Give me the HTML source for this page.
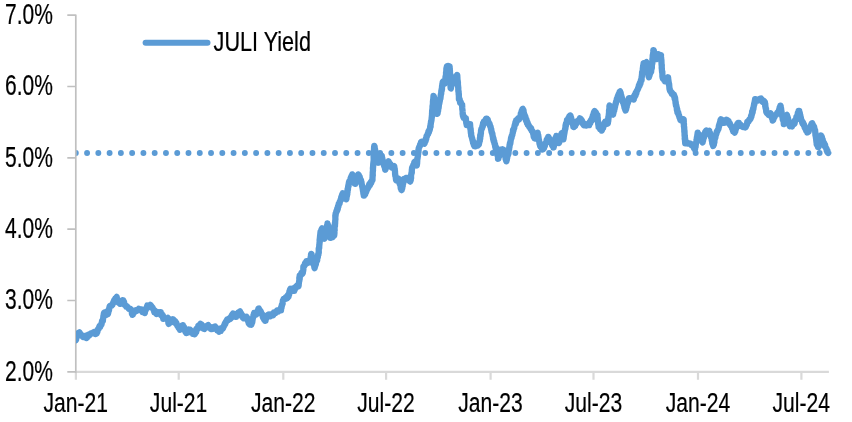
<!DOCTYPE html>
<html lang="en">
<head>
<meta charset="utf-8">
<title>JULI Yield</title>
<style>
html,body{margin:0;padding:0;background:#fff;}
body{width:852px;height:422px;overflow:hidden;}
svg{display:block;}
text{font-family:"Liberation Sans",Arial,Helvetica,sans-serif;fill:#000;stroke:#000;stroke-width:0.22px;}
</style>
</head>
<body>
<svg width="852" height="422" viewBox="0 0 852 422">
<rect width="852" height="422" fill="#fff"/>
<defs><clipPath id="plot"><rect x="75.9" y="0" width="776" height="372"/></clipPath></defs>
<line x1="75.8" y1="153" x2="829" y2="153" stroke="#5b9bd5" stroke-width="5.9" stroke-linecap="round" stroke-dasharray="0 11.27" clip-path="url(#plot)"/>
<g fill="none" stroke-linejoin="round">
<path d="M75.9,371.9 H828.9 M75.9,371.9 V379.8 M178.7,371.9 V379.8 M283.3,371.9 V379.8 M386.1,371.9 V379.8 M490.6,371.9 V379.8 M593.5,371.9 V379.8 M698.0,371.9 V379.8 M801.4,371.9 V379.8" stroke="#d9d9d9" stroke-width="2.2"/>
<path d="M67.3,15.1 H75.8 V372.9 M67.3,86.5 H75.8 M67.3,157.8 H75.8 M67.3,229.2 H75.8 M67.3,300.5 H75.8 M67.3,371.9 H75.8" stroke="#c0c0c0" stroke-width="1.7"/>
</g>
<path d="M75.9,340.2 L76.1,339.7 L76.3,337.2 L76.6,337.9 L76.9,335.8 L77.2,335.0 L77.9,334.3 L78.5,332.9 L79.4,332.3 L80.3,334.1 L80.9,334.2 L81.7,335.6 L83.1,337.0 L84.3,336.6 L85.4,335.8 L86.4,338.1 L87.6,336.9 L88.4,334.8 L89.2,335.5 L90.2,334.3 L91.4,333.1 L92.4,333.4 L93.5,332.3 L94.5,331.8 L95.5,334.0 L96.7,333.6 L96.9,332.2 L97.3,332.3 L97.7,329.7 L98.0,329.1 L98.6,329.0 L99.4,326.3 L100.0,327.1 L100.6,325.8 L101.2,323.9 L101.5,324.6 L102.0,321.1 L102.6,321.3 L102.9,320.9 L103.0,318.8 L103.2,318.4 L103.4,316.0 L103.5,317.2 L103.8,313.9 L103.9,314.7 L104.1,312.8 L105.0,312.3 L105.7,314.9 L106.5,314.8 L107.2,313.6 L107.9,313.9 L108.4,312.1 L108.6,309.8 L109.0,310.4 L109.2,308.4 L109.3,307.9 L109.7,306.3 L110.6,305.6 L111.4,305.8 L112.3,305.0 L112.8,303.3 L113.2,303.1 L113.6,301.7 L114.3,300.0 L114.9,301.0 L115.3,298.5 L116.0,298.7 L116.5,297.2 L116.7,296.9 L117.1,299.7 L117.5,299.9 L117.8,302.2 L118.2,302.4 L119.0,302.6 L120.0,303.9 L120.8,303.7 L121.5,301.6 L122.0,302.8 L122.5,300.2 L123.2,300.4 L123.7,302.8 L124.0,301.5 L124.3,304.5 L124.7,305.0 L125.6,305.3 L126.2,306.6 L127.1,306.5 L128.0,307.6 L128.9,308.8 L130.0,308.7 L131.2,309.5 L131.4,310.9 L131.8,311.4 L131.9,313.6 L132.2,313.2 L132.5,314.8 L132.9,314.4 L133.6,311.6 L134.0,312.5 L134.5,310.8 L135.5,310.3 L136.6,311.0 L137.8,310.2 L138.8,308.8 L140.1,310.0 L141.0,309.5 L141.7,309.5 L142.5,312.0 L143.6,311.2 L144.3,312.8 L144.8,313.0 L145.2,310.2 L145.8,310.1 L146.3,307.9 L146.6,308.2 L147.3,305.5 L147.6,305.6 L149.0,307.0 L150.3,304.9 L151.5,306.3 L152.1,307.7 L152.5,307.5 L153.1,309.3 L153.8,309.5 L154.3,312.2 L155.0,310.6 L155.4,312.8 L156.5,313.9 L157.6,312.0 L158.8,312.7 L160.0,312.1 L160.7,312.1 L161.1,315.2 L161.8,314.0 L162.3,316.2 L162.9,315.6 L163.3,318.8 L163.9,318.7 L165.3,318.1 L166.6,318.8 L167.8,318.0 L167.9,317.9 L168.3,321.0 L168.2,320.5 L168.4,323.1 L168.7,323.9 L169.7,321.7 L170.5,322.4 L171.3,319.8 L172.2,320.8 L173.0,319.3 L173.5,319.8 L174.3,322.3 L175.1,321.1 L175.7,323.5 L176.2,322.5 L176.9,324.5 L177.4,326.0 L178.1,326.1 L178.7,328.1 L179.4,328.3 L179.9,329.7 L180.5,329.4 L181.3,327.0 L181.9,327.7 L182.4,325.3 L183.0,325.2 L183.3,327.1 L183.9,326.7 L184.5,328.7 L184.9,329.3 L185.4,331.8 L185.9,331.3 L186.4,333.0 L187.2,332.7 L187.9,330.5 L188.6,329.7 L189.4,330.8 L190.3,329.9 L191.2,332.5 L192.0,331.1 L192.8,333.9 L193.7,332.9 L194.5,334.3 L195.0,334.0 L195.7,331.5 L196.2,332.2 L196.5,328.9 L197.1,329.1 L197.9,328.9 L198.3,325.9 L199.1,326.3 L199.7,324.7 L200.4,323.9 L201.0,325.1 L201.6,324.6 L202.0,327.0 L202.4,326.5 L203.0,328.4 L204.2,329.0 L205.3,326.6 L206.2,327.1 L207.3,325.8 L208.2,325.1 L209.0,327.5 L209.8,327.0 L210.6,328.9 L211.5,329.1 L212.3,327.4 L213.3,328.6 L214.1,326.9 L215.1,326.5 L215.8,328.3 L216.5,328.0 L217.2,330.2 L217.6,329.6 L218.4,331.1 L219.0,331.7 L219.7,330.4 L220.8,330.8 L221.4,328.2 L222.5,329.0 L223.2,327.8 L223.8,325.9 L224.1,326.0 L224.7,323.7 L225.3,323.9 L225.8,321.7 L226.3,321.9 L226.8,320.3 L227.2,319.5 L228.2,320.0 L229.5,318.3 L230.4,318.9 L230.8,318.4 L231.4,316.0 L231.9,316.1 L232.4,314.5 L233.0,313.7 L233.8,315.1 L234.6,314.2 L235.4,316.9 L236.3,316.9 L236.8,315.3 L237.4,315.3 L238.2,312.7 L238.9,313.2 L239.5,311.7 L240.0,311.4 L240.6,314.7 L241.3,313.7 L241.8,316.1 L242.5,315.4 L243.0,317.9 L243.5,318.2 L244.6,316.8 L245.6,318.0 L246.7,316.9 L246.9,317.7 L247.4,319.3 L247.6,319.7 L248.1,321.5 L248.4,321.1 L248.7,323.4 L249.5,324.4 L250.4,323.7 L251.3,324.7 L251.6,323.9 L252.0,321.9 L252.2,322.5 L252.6,319.5 L252.7,319.4 L252.9,317.5 L253.3,317.3 L253.5,314.9 L253.7,314.4 L254.1,313.0 L255.3,313.3 L256.5,314.3 L256.8,313.4 L257.3,311.4 L257.9,311.7 L258.4,308.6 L258.8,308.5 L259.4,310.5 L259.7,309.8 L260.1,312.7 L260.8,311.3 L261.3,313.6 L261.7,314.3 L262.3,314.2 L262.9,317.5 L263.4,317.2 L264.0,319.4 L264.5,318.6 L265.0,320.8 L265.6,320.7 L265.9,317.9 L266.2,318.4 L266.7,316.6 L267.3,316.3 L267.6,315.0 L268.9,314.4 L270.3,316.3 L271.5,315.6 L272.2,314.0 L273.2,315.1 L273.9,312.4 L274.7,312.4 L275.7,313.0 L277.0,310.6 L278.2,311.5 L279.3,309.8 L280.6,310.4 L281.0,310.4 L281.1,307.5 L281.5,308.0 L281.8,305.1 L281.9,306.0 L282.3,303.6 L282.6,304.0 L282.8,301.0 L283.1,301.1 L283.6,298.8 L283.8,298.7 L284.7,299.4 L285.8,297.3 L286.7,298.5 L287.8,297.4 L288.0,295.1 L288.6,296.6 L288.8,294.0 L289.2,294.3 L289.4,291.4 L289.9,291.5 L290.1,289.5 L290.4,288.9 L291.5,289.9 L292.4,288.9 L293.6,290.9 L294.3,290.9 L295.0,287.5 L295.7,288.1 L296.2,286.5 L297.2,285.5 L298.5,286.1 L298.7,285.1 L298.8,283.1 L298.9,283.0 L299.2,280.9 L299.4,280.5 L299.3,278.0 L299.7,279.3 L299.7,275.6 L299.9,275.7 L300.6,275.6 L301.4,272.9 L302.1,274.1 L302.9,272.8 L302.9,271.2 L303.2,270.9 L303.4,269.0 L303.3,268.9 L303.4,266.5 L303.6,266.2 L304.4,265.9 L305.1,263.1 L305.8,264.2 L306.4,261.1 L307.1,261.4 L307.9,262.8 L309.0,261.0 L309.9,262.4 L310.1,262.4 L310.1,259.7 L310.4,260.5 L310.6,257.4 L310.9,257.6 L311.0,254.7 L311.2,255.9 L311.4,253.9 L311.6,254.2 L311.8,256.5 L312.3,256.7 L312.3,259.0 L312.8,258.1 L312.8,261.2 L313.0,261.1 L313.2,263.2 L313.5,263.3 L314.0,265.7 L314.1,264.9 L314.4,267.7 L314.6,268.1 L314.9,266.4 L315.2,266.2 L315.4,263.5 L315.9,264.4 L316.1,261.4 L316.4,262.0 L316.8,259.7 L317.2,260.5 L317.3,256.9 L317.8,257.3 L318.1,254.7 L318.4,254.8 L318.4,254.5 L318.7,251.8 L318.8,252.5 L318.7,248.9 L318.8,249.3 L319.1,247.1 L319.2,248.0 L319.3,244.6 L319.4,245.1 L319.5,243.0 L319.7,242.6 L319.6,240.0 L319.7,240.1 L319.9,237.7 L319.9,237.8 L320.1,235.5 L320.1,235.8 L320.3,234.0 L320.5,232.0 L321.0,232.3 L321.5,229.3 L321.8,230.7 L322.2,228.3 L322.4,229.0 L322.8,231.9 L322.8,231.2 L323.3,233.7 L323.4,233.4 L323.9,236.2 L323.8,235.9 L324.2,238.1 L324.5,238.7 L324.6,236.5 L325.0,237.5 L325.1,234.4 L325.4,235.3 L325.6,231.7 L326.0,232.1 L326.3,230.0 L326.3,230.1 L326.6,227.7 L326.9,228.0 L327.0,225.5 L327.4,225.1 L327.5,223.5 L327.6,224.2 L328.0,226.0 L328.4,225.5 L328.7,228.9 L328.7,227.7 L329.2,230.5 L329.1,230.1 L329.5,233.2 L329.7,232.7 L329.9,234.8 L330.2,235.0 L330.4,237.9 L330.8,237.7 L331.6,235.8 L332.6,237.2 L333.3,234.9 L334.2,235.5 L334.3,234.6 L334.5,232.6 L334.4,232.4 L334.4,229.6 L334.7,230.4 L334.5,227.5 L334.6,227.6 L334.8,225.0 L335.0,226.1 L334.9,223.3 L335.1,224.1 L335.2,221.1 L335.2,221.0 L335.4,219.1 L335.4,219.4 L335.3,215.7 L335.5,216.3 L335.8,213.4 L335.7,213.5 L336.0,213.1 L336.5,210.7 L336.8,211.6 L337.3,208.2 L337.7,209.4 L338.0,206.3 L338.4,206.7 L338.7,204.0 L339.2,204.0 L339.6,203.4 L339.8,201.4 L340.3,201.0 L340.8,199.1 L341.1,199.9 L341.2,197.1 L341.7,196.8 L342.1,194.4 L342.4,194.8 L342.8,193.3 L343.4,193.4 L344.1,196.3 L344.4,195.3 L345.1,198.4 L345.7,197.4 L346.3,199.2 L346.4,199.1 L346.6,196.5 L346.9,196.3 L346.9,193.9 L347.3,194.4 L347.2,191.8 L347.5,192.6 L347.6,189.1 L347.9,190.0 L348.1,187.0 L348.1,187.3 L348.3,185.7 L348.6,186.2 L348.7,183.8 L349.1,181.5 L349.5,182.9 L350.0,180.2 L350.2,180.9 L350.7,177.7 L351.1,178.0 L351.4,176.1 L351.9,175.9 L352.3,174.4 L352.5,174.5 L352.9,176.7 L353.2,176.6 L353.5,179.1 L354.0,178.5 L354.2,180.9 L354.6,181.1 L354.8,183.7 L355.3,183.8 L355.7,182.4 L355.9,182.4 L356.4,180.1 L356.6,180.2 L356.9,178.0 L357.4,178.7 L357.5,175.9 L357.8,176.5 L358.2,174.4 L358.8,175.2 L359.2,177.1 L359.7,176.7 L360.0,179.1 L360.5,179.1 L361.0,180.3 L361.3,182.3 L361.5,182.2 L361.7,184.2 L361.8,184.3 L362.2,186.6 L362.3,186.6 L362.7,189.1 L362.7,188.7 L363.1,191.5 L363.1,190.5 L363.4,193.7 L363.7,192.3 L363.8,195.7 L364.1,195.7 L364.5,193.5 L365.2,194.3 L365.6,191.4 L366.2,191.9 L366.7,189.6 L367.2,189.7 L367.9,187.3 L368.3,187.5 L368.8,186.2 L369.3,184.1 L369.9,185.4 L370.6,182.4 L371.1,183.2 L371.8,180.6 L372.4,180.3 L372.5,179.8 L372.5,177.3 L372.6,177.1 L372.6,175.0 L372.8,175.6 L372.7,172.7 L372.7,173.0 L372.9,170.8 L373.0,170.3 L372.9,168.0 L373.0,168.6 L373.2,165.5 L373.1,166.2 L373.3,163.5 L373.2,164.4 L373.6,160.8 L373.6,161.8 L373.7,159.2 L373.7,159.3 L373.6,156.1 L373.9,157.3 L373.7,154.8 L373.8,155.0 L373.9,151.5 L373.9,152.8 L374.2,149.7 L374.0,149.8 L374.1,147.4 L374.1,147.3 L374.3,145.9 L374.6,146.6 L374.8,149.1 L375.0,148.8 L375.1,150.6 L375.3,150.4 L375.5,153.7 L375.8,152.7 L376.0,155.0 L376.1,154.8 L376.2,157.9 L376.5,156.6 L376.7,159.0 L377.4,160.5 L377.8,160.0 L378.3,162.7 L379.0,162.5 L379.3,160.3 L379.8,161.4 L380.1,158.6 L380.2,159.0 L380.6,157.2 L381.0,157.3 L381.4,155.4 L381.8,155.7 L381.9,157.9 L382.2,157.7 L382.6,160.0 L382.9,160.5 L383.3,162.4 L383.5,162.2 L383.9,165.1 L384.3,164.9 L384.4,166.8 L384.8,167.1 L385.2,169.7 L385.4,169.6 L385.7,167.9 L386.2,167.7 L386.5,165.6 L386.9,166.4 L387.4,163.1 L387.8,163.9 L388.1,162.1 L388.5,161.3 L388.9,163.0 L389.6,163.0 L390.0,164.5 L390.3,164.0 L390.9,166.7 L391.4,167.3 L392.4,166.1 L393.2,167.6 L394.2,166.1 L394.3,166.7 L394.6,168.7 L394.7,168.5 L394.9,171.0 L395.0,171.0 L395.1,174.3 L395.2,173.9 L395.3,176.0 L395.7,176.2 L395.9,178.9 L395.9,178.1 L396.1,180.3 L397.0,180.7 L398.0,178.4 L398.9,179.1 L399.2,180.7 L399.4,180.0 L399.6,183.6 L399.9,183.0 L400.4,185.7 L400.5,184.6 L400.7,188.0 L401.2,187.4 L401.4,189.9 L401.6,190.1 L402.0,188.0 L402.2,188.6 L402.5,185.7 L402.7,186.3 L402.8,183.6 L403.1,183.8 L403.5,181.9 L403.5,181.4 L404.0,179.6 L404.1,178.8 L405.1,179.1 L406.1,177.9 L407.3,177.8 L408.1,179.7 L408.8,178.7 L409.5,180.9 L410.2,181.6 L410.5,179.8 L410.7,180.4 L410.9,177.8 L411.1,178.1 L411.0,175.4 L411.2,174.8 L411.6,172.1 L411.8,173.1 L411.8,170.0 L411.9,170.1 L412.1,167.5 L412.4,167.4 L412.9,166.8 L413.3,164.9 L414.0,164.5 L414.3,162.2 L414.9,161.7 L415.4,164.0 L415.9,162.4 L416.3,164.8 L416.8,165.5 L417.0,163.7 L417.1,163.8 L417.1,161.3 L417.2,162.1 L417.3,158.7 L417.5,158.9 L417.8,156.4 L417.8,156.6 L418.0,154.5 L418.1,154.5 L418.3,152.4 L418.5,152.3 L418.4,150.2 L418.6,150.5 L418.7,148.4 L419.2,147.0 L419.7,146.5 L420.2,144.1 L420.5,144.9 L421.0,142.2 L421.5,141.8 L422.3,143.7 L423.3,141.8 L424.4,143.7 L424.7,143.1 L425.1,140.3 L425.6,141.1 L425.8,139.0 L426.2,139.2 L426.5,136.3 L426.8,136.9 L427.2,135.2 L427.7,133.8 L428.1,134.1 L428.4,131.7 L428.9,132.2 L429.3,129.7 L429.6,130.2 L430.1,128.0 L430.2,126.4 L430.6,126.7 L430.6,124.2 L430.8,123.9 L431.0,121.5 L431.2,121.7 L431.5,120.0 L431.7,117.5 L431.8,118.0 L431.8,116.2 L432.0,116.7 L432.0,113.2 L432.1,113.5 L432.1,111.6 L432.1,111.4 L432.4,109.0 L432.5,109.5 L432.5,106.4 L432.7,106.5 L432.8,104.4 L432.8,105.1 L433.0,101.9 L432.9,102.2 L433.2,99.4 L433.3,100.3 L433.4,96.9 L433.4,97.9 L433.5,95.8 L433.8,96.4 L434.0,98.4 L434.3,98.1 L434.4,101.2 L434.7,100.7 L434.9,103.5 L435.3,102.7 L435.4,105.2 L435.6,104.8 L436.0,107.8 L436.1,107.9 L436.4,109.7 L436.6,109.1 L436.8,111.9 L437.1,111.9 L437.3,113.8 L437.6,113.4 L437.8,110.3 L438.1,111.0 L438.2,108.7 L438.5,108.6 L438.8,106.4 L438.7,106.2 L439.1,103.9 L439.3,103.5 L439.6,101.4 L439.7,101.5 L440.0,99.3 L440.2,98.6 L440.4,98.7 L440.7,95.9 L440.7,95.8 L441.0,93.7 L441.2,94.0 L441.3,91.0 L441.6,91.1 L441.7,88.9 L442.0,89.5 L442.0,86.5 L442.1,86.9 L442.4,83.8 L442.6,85.0 L442.7,82.0 L443.0,81.5 L443.9,83.1 L444.9,83.4 L445.1,82.1 L445.1,81.7 L445.3,79.5 L445.4,79.6 L445.5,76.8 L445.8,77.9 L445.9,75.2 L446.0,75.6 L446.1,72.8 L446.0,73.0 L446.4,70.7 L446.3,70.8 L446.4,68.3 L446.8,68.0 L446.8,66.4 L448.1,65.8 L449.6,66.4 L449.7,68.8 L449.8,68.3 L449.8,70.7 L449.9,70.0 L450.0,73.2 L450.0,72.9 L450.0,75.2 L450.1,74.9 L450.0,77.6 L450.0,77.4 L450.0,79.8 L450.1,79.4 L450.3,82.1 L450.4,81.6 L450.5,83.8 L450.5,84.0 L450.6,86.9 L450.5,86.4 L450.6,88.2 L450.9,88.4 L451.4,85.1 L451.8,85.2 L452.3,82.9 L452.7,83.4 L453.0,80.9 L453.4,80.6 L453.9,80.9 L454.7,77.7 L455.4,78.3 L455.9,76.2 L456.6,76.7 L457.2,74.9 L457.3,75.6 L457.4,77.9 L457.4,77.3 L457.5,80.7 L457.6,80.0 L457.9,82.7 L457.9,82.1 L457.9,84.9 L458.0,84.9 L458.2,87.5 L458.3,87.5 L458.3,90.2 L458.3,89.9 L458.4,91.5 L458.6,91.2 L458.7,94.6 L458.8,93.6 L458.9,96.9 L458.9,96.2 L458.9,99.3 L459.1,99.5 L459.7,99.5 L460.1,102.5 L460.7,102.0 L461.5,104.4 L462.0,104.3 L462.1,104.5 L462.3,107.7 L462.2,106.9 L462.3,109.4 L462.4,109.4 L462.7,112.1 L462.7,112.0 L462.6,113.7 L462.8,113.4 L462.9,115.7 L463.6,117.7 L464.3,116.9 L465.2,118.7 L465.8,118.5 L465.9,118.3 L466.0,121.4 L466.2,120.9 L466.3,123.3 L466.6,123.8 L466.7,125.1 L468.0,125.1 L469.1,124.2 L470.1,124.2 L470.1,125.7 L470.2,125.5 L470.3,128.7 L470.6,128.5 L470.8,130.9 L470.6,130.0 L470.9,133.1 L471.1,132.6 L471.2,135.0 L471.2,135.6 L471.4,135.6 L471.9,137.9 L472.0,137.6 L472.5,140.4 L472.9,140.5 L473.0,142.7 L473.5,142.4 L473.8,144.8 L474.2,144.8 L474.4,146.2 L475.6,146.4 L476.6,144.4 L477.9,145.5 L478.9,144.4 L479.2,142.0 L479.2,143.0 L479.6,140.7 L479.8,140.8 L479.9,138.1 L480.2,138.9 L480.2,135.5 L480.6,135.9 L480.7,133.5 L480.9,133.9 L481.0,130.7 L481.1,130.9 L481.4,128.9 L481.6,128.4 L482.1,128.5 L482.4,126.1 L482.8,126.5 L483.0,123.5 L483.5,124.5 L484.0,121.3 L484.2,121.3 L485.0,121.0 L486.1,118.7 L486.9,118.7 L487.4,120.1 L487.7,119.4 L488.3,122.6 L488.6,122.0 L489.2,124.2 L489.5,123.6 L490.1,126.0 L490.4,126.7 L490.6,126.7 L491.1,129.8 L491.2,128.8 L491.5,131.8 L491.7,131.7 L492.1,133.7 L492.4,133.7 L492.6,136.1 L492.8,136.2 L493.1,139.0 L493.5,138.4 L493.6,140.9 L494.0,140.9 L494.2,141.1 L494.4,143.8 L495.0,143.9 L495.1,146.4 L495.3,145.4 L495.6,148.4 L496.0,147.1 L496.3,150.6 L496.3,150.0 L496.7,151.6 L496.9,153.2 L497.1,153.7 L497.7,156.0 L498.0,155.6 L498.0,158.8 L498.4,158.7 L498.6,156.7 L499.0,156.8 L499.1,154.9 L499.4,155.2 L499.5,152.2 L499.6,152.7 L500.1,149.6 L500.2,149.8 L501.3,150.3 L502.6,149.3 L503.8,149.8 L504.2,152.2 L504.2,150.9 L504.6,154.4 L505.0,153.5 L505.0,155.8 L505.5,155.6 L505.6,158.8 L506.0,158.1 L506.1,160.5 L506.4,161.3 L506.5,159.7 L506.8,159.9 L507.0,157.6 L507.2,158.0 L507.5,154.9 L508.0,155.1 L508.2,153.3 L508.5,153.9 L508.6,151.6 L508.8,150.1 L509.1,149.6 L509.3,147.0 L509.4,147.8 L509.6,144.8 L509.7,145.7 L509.9,143.2 L510.3,143.5 L510.6,141.0 L510.7,140.7 L510.9,139.1 L511.1,137.6 L511.5,138.0 L511.9,135.3 L512.3,135.2 L512.6,133.1 L512.9,132.6 L513.0,130.2 L513.4,130.8 L513.7,128.5 L514.2,128.4 L514.4,126.7 L514.9,124.3 L515.1,125.0 L515.4,122.4 L515.9,123.7 L516.2,120.3 L516.7,121.7 L517.1,119.6 L517.9,118.6 L518.9,119.6 L519.8,117.8 L520.2,116.3 L520.5,116.8 L520.8,113.6 L521.4,113.8 L521.6,111.2 L521.9,111.4 L522.4,109.1 L522.8,108.9 L523.0,110.5 L523.5,110.2 L523.8,113.3 L523.9,112.8 L524.3,115.4 L524.5,114.4 L524.9,117.7 L525.4,116.4 L525.6,118.7 L525.9,120.5 L526.5,119.5 L526.9,122.9 L527.5,122.3 L527.7,124.4 L528.3,124.2 L528.7,125.8 L529.3,126.9 L529.9,126.9 L530.5,128.8 L531.1,128.2 L531.7,130.8 L532.2,131.1 L532.7,131.6 L533.1,133.7 L533.3,133.4 L533.7,136.6 L534.0,136.2 L534.5,138.2 L535.1,138.4 L535.7,135.6 L536.5,135.4 L536.9,133.6 L537.7,132.8 L537.8,135.0 L538.2,134.9 L538.4,137.1 L538.4,136.4 L538.8,139.7 L538.9,139.4 L539.2,141.6 L539.3,141.5 L539.5,143.8 L540.0,143.4 L540.1,145.8 L540.3,146.6 L541.1,146.4 L542.2,149.5 L543.0,149.2 L543.4,147.5 L543.9,148.3 L544.5,145.4 L544.8,146.2 L545.2,143.6 L545.7,143.0 L546.3,142.7 L546.7,139.8 L547.1,141.0 L547.4,138.6 L548.0,139.1 L548.3,136.8 L548.8,137.4 L549.3,139.8 L549.8,139.2 L550.5,141.7 L551.0,142.1 L551.4,142.9 L552.2,145.5 L552.7,144.0 L553.3,147.5 L553.7,147.4 L553.8,145.0 L554.1,146.0 L554.4,143.0 L554.9,143.6 L554.9,140.7 L555.2,141.3 L555.5,138.1 L555.8,138.8 L556.1,136.7 L556.3,135.9 L556.7,138.2 L557.1,137.4 L557.4,139.8 L557.7,139.6 L558.2,141.5 L558.5,141.5 L559.0,143.0 L559.3,142.2 L559.6,139.7 L559.9,140.6 L560.3,138.2 L560.5,138.3 L560.8,135.6 L561.0,135.9 L561.4,133.8 L561.7,133.2 L562.0,134.9 L562.2,135.1 L562.5,137.5 L562.8,136.5 L563.3,138.9 L563.4,139.4 L563.7,137.7 L563.7,137.5 L564.0,134.8 L564.1,135.1 L564.4,133.0 L564.5,132.9 L564.8,130.1 L564.9,130.6 L565.2,128.5 L565.4,128.9 L565.5,125.7 L565.8,126.7 L565.9,123.5 L566.1,123.4 L566.7,123.5 L567.0,120.1 L567.5,121.6 L568.2,118.3 L568.8,119.2 L569.2,116.5 L569.8,117.5 L570.2,115.4 L570.5,115.6 L570.8,118.2 L571.1,117.5 L571.5,120.3 L571.8,120.0 L572.3,122.8 L572.5,122.0 L572.8,124.2 L573.2,124.5 L573.3,126.8 L573.8,127.0 L574.4,124.7 L575.2,126.1 L575.7,122.6 L576.5,123.6 L576.9,121.6 L577.7,120.8 L578.8,121.0 L579.9,118.3 L580.9,119.0 L581.5,120.9 L581.9,120.3 L582.4,123.1 L582.9,122.5 L583.5,124.8 L583.9,125.2 L585.0,124.2 L586.1,125.5 L587.2,124.5 L588.3,125.2 L589.1,125.2 L589.6,122.1 L590.3,123.3 L590.8,120.3 L591.5,120.8 L591.9,120.5 L592.1,118.2 L592.6,118.9 L592.8,115.7 L593.3,116.6 L593.7,113.1 L593.9,114.4 L594.2,111.7 L594.6,111.0 L595.3,112.7 L595.8,112.4 L596.6,114.6 L597.2,114.6 L597.5,115.1 L597.3,117.8 L597.7,117.3 L597.8,119.7 L597.8,120.0 L598.0,122.5 L598.0,121.5 L598.2,124.4 L598.4,124.2 L598.6,126.7 L598.6,127.0 L599.3,127.0 L600.0,129.1 L600.8,128.6 L601.7,130.6 L602.0,129.8 L602.7,127.6 L603.1,128.2 L603.3,125.9 L603.8,126.1 L604.3,122.9 L604.7,123.2 L605.2,121.7 L606.2,122.0 L607.0,123.7 L607.9,123.4 L608.0,121.6 L608.2,121.4 L608.4,119.2 L608.4,119.7 L608.3,117.4 L608.6,118.0 L608.8,115.1 L608.7,115.6 L609.0,112.5 L609.1,113.0 L609.0,110.7 L609.1,111.1 L609.4,108.4 L609.5,108.6 L609.4,106.2 L609.6,105.6 L609.9,107.3 L610.4,106.5 L610.8,109.8 L611.3,109.3 L611.7,111.9 L612.3,112.0 L612.6,114.1 L613.1,114.6 L613.3,113.1 L613.5,112.9 L613.8,110.4 L614.2,110.6 L614.3,108.8 L614.5,109.2 L615.0,106.2 L615.0,107.0 L615.4,104.2 L615.7,104.3 L616.0,102.2 L616.1,101.5 L616.5,101.2 L616.9,98.5 L617.4,99.1 L617.9,95.8 L618.2,96.5 L618.7,93.9 L619.1,94.8 L619.7,91.7 L620.1,91.4 L620.5,93.0 L620.7,93.0 L620.9,95.6 L621.2,95.2 L621.7,97.4 L621.9,97.5 L622.2,99.5 L622.5,99.7 L622.7,101.9 L623.1,102.5 L623.4,103.1 L623.9,105.1 L624.1,105.4 L624.6,108.3 L625.0,107.0 L625.2,109.7 L625.6,110.5 L625.9,109.2 L626.1,109.3 L626.5,106.5 L626.7,107.1 L627.0,103.8 L627.2,104.8 L627.8,102.5 L628.0,102.7 L628.1,100.4 L628.4,99.9 L628.8,98.4 L629.9,98.1 L630.9,99.1 L632.0,98.2 L633.2,99.4 L633.7,99.6 L634.0,96.4 L634.6,97.1 L634.8,94.8 L635.5,95.6 L635.7,92.9 L636.3,93.6 L636.7,91.1 L637.2,90.4 L637.7,89.6 L638.2,87.7 L638.4,88.1 L639.0,84.9 L639.6,85.8 L639.8,83.1 L640.4,83.8 L640.9,80.2 L641.3,80.3 L641.6,80.2 L641.6,77.1 L641.8,77.1 L641.9,75.0 L642.0,75.9 L642.1,72.4 L642.5,73.3 L642.6,70.7 L642.8,71.4 L642.8,68.1 L643.0,68.0 L643.1,65.9 L643.3,66.0 L643.6,63.3 L643.7,63.2 L644.9,63.2 L646.3,62.2 L646.5,62.6 L646.7,65.8 L647.0,65.1 L647.1,67.2 L647.4,67.4 L647.6,70.0 L647.7,69.9 L647.9,72.4 L648.2,71.6 L648.2,74.1 L648.4,74.4 L648.6,76.4 L648.9,77.3 L649.3,75.7 L649.5,75.7 L649.9,73.3 L650.2,73.4 L650.5,71.3 L651.1,71.8 L651.4,69.0 L651.7,68.2 L651.8,68.4 L651.9,65.6 L651.9,65.5 L652.0,62.9 L652.3,63.8 L652.5,60.5 L652.4,61.2 L652.4,58.7 L652.7,58.3 L652.7,55.7 L652.9,56.2 L653.1,53.5 L653.2,53.9 L653.3,51.2 L653.2,51.8 L653.4,50.1 L653.7,50.1 L654.2,53.0 L654.6,52.9 L654.8,55.1 L655.3,54.9 L655.7,58.0 L656.2,56.7 L656.4,59.1 L656.8,58.9 L657.1,56.7 L657.5,57.0 L657.9,54.1 L658.4,54.1 L659.8,55.3 L661.0,55.1 L660.9,56.0 L661.1,58.2 L661.1,57.6 L661.4,61.0 L661.4,59.9 L661.5,62.7 L661.5,62.6 L661.6,65.1 L661.8,64.7 L661.7,68.1 L661.8,67.5 L661.9,70.1 L661.9,70.0 L662.1,72.2 L662.3,71.4 L662.4,75.1 L662.4,73.8 L662.4,76.3 L662.8,78.4 L663.5,77.3 L664.0,79.8 L664.5,79.0 L665.0,81.3 L665.7,81.2 L666.6,78.7 L667.1,78.5 L667.9,77.3 L668.1,77.4 L668.3,79.8 L668.4,79.9 L668.6,82.3 L668.7,81.9 L668.8,84.2 L669.1,83.7 L669.3,86.4 L669.3,86.6 L669.5,89.0 L669.7,88.5 L669.9,90.4 L670.6,91.7 L671.2,91.8 L671.7,93.8 L672.4,93.2 L673.3,95.4 L673.9,94.7 L674.5,96.4 L674.6,98.6 L675.0,97.3 L675.3,100.1 L675.3,100.3 L675.6,103.4 L675.7,102.1 L675.9,105.4 L676.2,105.0 L676.5,106.8 L676.7,107.3 L676.9,109.9 L677.2,108.8 L677.4,112.4 L677.6,112.3 L678.2,112.2 L678.6,115.0 L679.0,115.1 L679.5,117.8 L679.8,117.6 L680.4,120.1 L680.7,120.2 L681.5,118.9 L682.4,120.5 L683.5,119.3 L683.7,119.6 L683.8,121.9 L683.7,121.8 L683.8,124.3 L684.0,123.9 L683.9,126.5 L684.2,127.0 L684.2,128.9 L684.3,129.1 L684.3,131.4 L684.5,130.7 L684.6,134.0 L684.5,132.9 L684.6,135.9 L684.9,135.7 L684.7,138.7 L685.1,138.3 L685.0,140.9 L685.0,140.3 L685.2,143.3 L685.3,143.3 L686.6,142.1 L687.8,143.6 L689.2,143.3 L690.5,143.5 L691.5,145.4 L692.8,145.1 L693.3,145.8 L693.9,148.1 L694.3,147.8 L694.9,149.6 L695.1,148.7 L695.1,146.8 L695.6,146.9 L695.6,144.8 L695.8,144.9 L696.1,142.3 L696.3,142.2 L696.6,139.8 L696.5,140.8 L696.9,137.5 L697.1,138.4 L697.3,135.2 L697.3,135.6 L697.7,132.7 L697.8,132.7 L698.4,135.0 L698.9,134.2 L699.3,136.9 L699.8,135.9 L700.3,138.7 L700.8,138.9 L701.4,139.8 L702.1,141.8 L702.6,142.4 L702.8,140.5 L703.1,140.5 L703.4,138.3 L703.9,137.9 L704.0,135.8 L704.3,136.2 L704.5,133.8 L704.9,133.5 L705.2,131.8 L706.4,130.5 L707.6,132.5 L708.8,130.9 L709.2,130.7 L709.4,133.2 L710.1,133.1 L710.4,135.6 L710.8,135.3 L711.0,137.3 L711.4,138.0 L711.6,137.9 L711.8,140.8 L712.1,141.0 L712.3,143.6 L712.6,143.1 L713.1,145.8 L713.2,146.0 L713.4,143.9 L713.9,144.7 L713.9,141.6 L714.4,142.5 L714.4,139.6 L714.8,139.5 L715.1,136.7 L715.3,138.0 L715.7,135.0 L715.9,134.4 L716.3,134.3 L716.8,131.4 L717.2,131.6 L717.7,130.0 L718.1,129.8 L718.6,128.2 L718.8,126.2 L719.0,126.7 L719.5,123.6 L719.6,125.1 L720.1,121.7 L720.2,122.1 L720.5,120.0 L720.9,119.3 L721.5,121.3 L722.4,120.0 L723.2,122.8 L723.9,122.9 L724.8,121.4 L725.6,122.4 L726.5,119.8 L727.4,120.2 L728.1,122.1 L728.5,120.9 L729.3,124.0 L729.7,123.1 L730.5,125.5 L731.0,125.6 L731.4,126.3 L732.1,128.4 L732.5,127.6 L733.0,131.0 L733.4,129.6 L734.0,131.9 L734.6,132.7 L735.0,131.3 L735.3,131.4 L735.7,128.2 L736.1,128.7 L736.7,126.2 L736.8,126.6 L737.2,124.0 L737.7,125.3 L738.1,122.9 L739.0,122.8 L739.9,125.8 L740.9,125.0 L741.7,126.4 L742.9,127.1 L744.1,126.9 L745.2,127.5 L745.8,127.1 L746.3,125.0 L746.9,124.9 L747.3,121.8 L747.8,122.0 L748.5,121.6 L749.2,119.7 L749.9,119.8 L750.7,118.4 L751.0,116.2 L751.4,116.7 L751.6,114.6 L752.0,114.3 L752.1,111.6 L752.6,112.8 L752.8,110.6 L753.0,108.9 L753.4,109.1 L753.6,106.8 L753.7,106.9 L754.1,104.0 L754.4,104.2 L754.6,102.0 L754.6,102.7 L755.1,99.1 L755.2,99.2 L755.9,100.2 L757.1,99.8 L757.8,100.6 L759.0,100.1 L759.9,98.8 L760.9,98.5 L761.3,99.7 L761.7,99.3 L762.5,101.8 L762.8,102.1 L764.0,101.1 L764.9,102.1 L764.9,104.5 L765.3,103.8 L765.2,106.4 L765.4,105.7 L765.6,108.3 L766.0,108.5 L766.1,110.4 L766.1,110.6 L766.3,112.0 L767.0,113.3 L767.8,113.5 L768.5,114.9 L769.6,114.5 L770.6,113.4 L770.8,113.8 L771.3,116.4 L771.6,115.7 L772.1,118.6 L772.4,118.1 L772.7,120.5 L773.2,119.9 L773.7,117.8 L774.4,117.4 L775.0,115.4 L775.6,114.9 L776.4,114.8 L777.5,112.4 L778.4,112.7 L778.8,112.3 L779.2,109.3 L779.5,110.4 L779.7,107.3 L780.3,107.5 L780.5,105.6 L780.7,106.1 L780.8,108.6 L781.0,107.8 L781.4,111.3 L781.5,111.1 L781.6,113.4 L781.8,113.5 L782.2,116.3 L782.3,116.3 L782.4,116.2 L782.8,119.5 L783.1,118.7 L783.5,121.3 L783.7,121.7 L783.8,124.2 L784.1,124.1 L784.6,122.1 L784.8,122.3 L785.1,119.6 L785.5,120.5 L785.9,117.5 L786.1,118.2 L786.6,115.1 L786.9,114.9 L787.2,116.5 L787.6,116.7 L787.8,119.0 L788.1,118.6 L788.2,121.0 L788.6,120.4 L788.9,123.6 L789.1,122.8 L789.6,125.5 L789.8,126.2 L790.9,124.9 L792.1,126.3 L792.9,123.4 L794.1,124.1 L794.6,123.6 L794.8,120.7 L795.2,121.1 L795.7,119.3 L796.1,119.7 L796.4,116.7 L796.9,116.3 L797.5,115.9 L797.8,113.2 L798.4,113.9 L798.6,111.0 L799.2,111.0 L799.4,113.1 L799.7,112.5 L800.0,115.0 L800.2,114.9 L800.6,117.1 L800.8,117.5 L801.1,119.9 L801.4,120.0 L801.8,120.5 L802.3,123.3 L803.0,122.3 L803.4,124.8 L803.9,124.3 L804.4,126.5 L804.8,128.1 L805.5,127.7 L806.0,130.4 L806.7,129.7 L807.2,132.5 L807.8,132.3 L808.3,130.7 L808.7,131.6 L809.3,128.0 L809.8,128.9 L810.2,127.3 L810.6,125.7 L811.2,126.3 L811.7,123.4 L812.2,123.2 L812.7,125.5 L813.1,125.2 L813.5,127.2 L814.0,126.4 L814.6,129.4 L814.9,129.8 L815.1,130.2 L815.3,132.9 L815.4,132.3 L815.4,135.0 L815.7,134.5 L815.9,137.8 L815.9,137.5 L816.2,139.3 L816.2,139.8 L816.5,142.3 L816.6,142.1 L816.7,144.6 L816.9,144.7 L817.5,145.3 L818.0,147.0 L818.5,147.2 L818.8,144.7 L818.9,146.1 L819.3,143.1 L819.6,142.8 L819.7,140.9 L819.9,140.8 L820.3,137.9 L820.5,138.7 L820.7,136.5 L821.0,135.6 L821.5,137.9 L821.8,136.6 L822.1,139.4 L822.6,139.2 L823.1,141.9 L823.5,142.3 L824.0,142.6 L824.4,145.7 L825.0,144.5 L825.4,147.2 L826.0,148.1 L826.4,148.3 L826.8,150.9 L827.4,150.5 L827.8,152.6 L828.2,153.0" fill="none" stroke="#5b9bd5" stroke-width="6.3" stroke-linejoin="round" stroke-linecap="round" clip-path="url(#plot)"/>
<line x1="145.65" y1="42.7" x2="207.45" y2="42.7" stroke="#5b9bd5" stroke-width="6.1" stroke-linecap="round"/>
<text transform="translate(213.6,50.6) scale(0.801,1)" font-size="27">JULI Yield</text>
<text transform="translate(52.8,23.8) scale(0.734,1)" font-size="28.6" text-anchor="end">7.0%</text>
<text transform="translate(52.8,95.2) scale(0.734,1)" font-size="28.6" text-anchor="end">6.0%</text>
<text transform="translate(52.8,166.5) scale(0.734,1)" font-size="28.6" text-anchor="end">5.0%</text>
<text transform="translate(52.8,237.9) scale(0.734,1)" font-size="28.6" text-anchor="end">4.0%</text>
<text transform="translate(52.8,309.2) scale(0.734,1)" font-size="28.6" text-anchor="end">3.0%</text>
<text transform="translate(52.8,380.6) scale(0.734,1)" font-size="28.6" text-anchor="end">2.0%</text>
<text transform="translate(75.8,411.7) scale(0.765,1)" font-size="27.6" text-anchor="middle">Jan-21</text>
<text transform="translate(178.6,411.7) scale(0.765,1)" font-size="27.6" text-anchor="middle">Jul-21</text>
<text transform="translate(283.2,411.7) scale(0.765,1)" font-size="27.6" text-anchor="middle">Jan-22</text>
<text transform="translate(386.0,411.7) scale(0.765,1)" font-size="27.6" text-anchor="middle">Jul-22</text>
<text transform="translate(490.5,411.7) scale(0.765,1)" font-size="27.6" text-anchor="middle">Jan-23</text>
<text transform="translate(593.4,411.7) scale(0.765,1)" font-size="27.6" text-anchor="middle">Jul-23</text>
<text transform="translate(697.9,411.7) scale(0.765,1)" font-size="27.6" text-anchor="middle">Jan-24</text>
<text transform="translate(801.3,411.7) scale(0.765,1)" font-size="27.6" text-anchor="middle">Jul-24</text>
</svg>
</body>
</html>
